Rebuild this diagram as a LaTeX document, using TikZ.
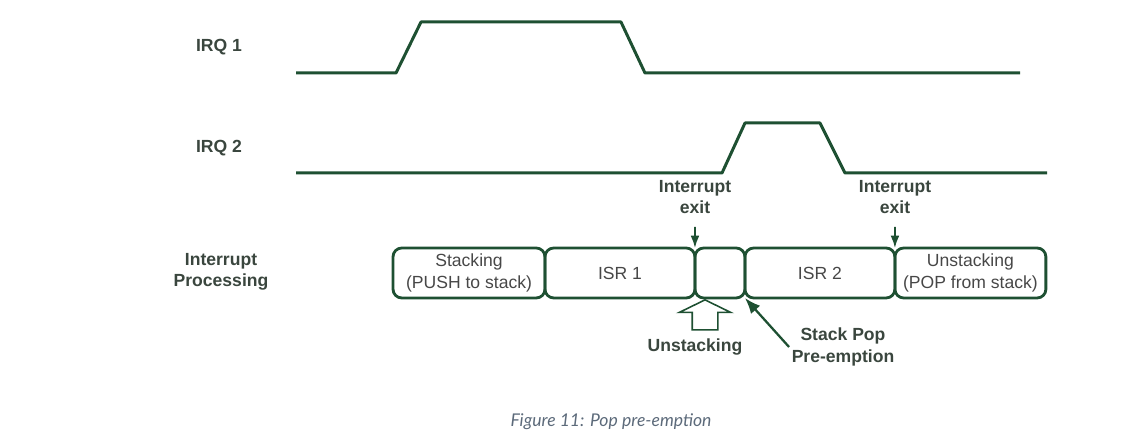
\documentclass[tikz,border=0pt]{standalone}
\usepackage{fontspec}
\setmainfont{Liberation Sans}
\newfontfamily\captionfont{Lato}
\usetikzlibrary{shapes,arrows,arrows.meta,positioning,calc}
\definecolor{signalgreen}{RGB}{30,80,50}
\definecolor{labelgray}{RGB}{58,70,62}
\definecolor{captiongray}{RGB}{92,106,122}

\begin{document}
\begin{tikzpicture}[x=0.02cm,y=-0.02cm,
    signal/.style={draw=signalgreen, line width=1.7pt, line join=round},
    procbox/.style={draw=signalgreen, line width=1.6pt, rounded corners=5pt, minimum height=1cm, inner sep=0pt, outer sep=0pt, align=center, text=black!72, font=\fontsize{10}{12}\selectfont},
    lbl/.style={align=center, text=labelgray, font=\bfseries\fontsize{10}{12}\selectfont},
    exitarrow/.style={-{Latex[length=7pt,width=5pt]}, draw=signalgreen, line width=1pt},
    hollowarrow/.style={single arrow, draw=signalgreen, line width=0.9pt, rotate=90, inner xsep=0pt, inner ysep=0.24cm, single arrow head extend=0.26cm, single arrow tip angle=128, minimum height=0.6cm},
    node distance=0pt]
    \useasboundingbox (0,0) rectangle (1127,448);

    % Signal names
    \node[lbl] (irqa) at (219,47) {IRQ 1};
    \node[lbl] (irqb) at (219,148) {IRQ 2};
    \node[lbl] (proc) at (221,272) {Interrupt\\Processing};

    % IRQ waveforms
    \draw[signal] (296,73) -- (396,73) -- (421,22) -- (621,22) -- (645,73) -- (1020,73);
    \draw[signal] (296,173) -- (722,173) -- (745,123) -- (820,123) -- (845,173) -- (1047,173);

    % Processing timeline
    \node[procbox, minimum width=3.04cm] (stk) at (469,273) {Stacking\\(PUSH to stack)};
    \node[procbox, minimum width=3cm, right=of stk] (isra) {ISR 1};
    \node[procbox, minimum width=1cm, right=of isra] (gap) {};
    \node[procbox, minimum width=3cm, right=of gap] (isrb) {ISR 2};
    \node[procbox, minimum width=3.02cm, right=of isrb] (unstk) {Unstacking\\(POP from stack)};

    % Interrupt exits
    \node[lbl] (exita) at (695,197) {Interrupt\\exit};
    \node[lbl] (exitb) at (895,197) {Interrupt\\exit};
    \draw[exitarrow] ([yshift=-4pt]exita.south) -- (gap.north west);
    \draw[exitarrow] ([yshift=-4pt]exitb.south) -- (unstk.north west);

    % Unstacking and stack pop
    \node[hollowarrow] (uparr) at (705,318) {};
    \node[lbl] (unlbl) at (695,347) {Unstacking};
    \node[lbl] (pop) at (843,347) {Stack Pop\\Pre-emption};
    \draw[-{Latex[length=9pt,width=7pt]}, draw=signalgreen, line width=1.3pt] ([xshift=2pt]pop.west) -- (isrb.south west);

    % Caption
    \node[font=\captionfont\itshape\fontsize{10}{12}\selectfont, text=captiongray] (cap) at (611,422) {Figure 11: Pop pre-emption};
\end{tikzpicture}
\end{document}
